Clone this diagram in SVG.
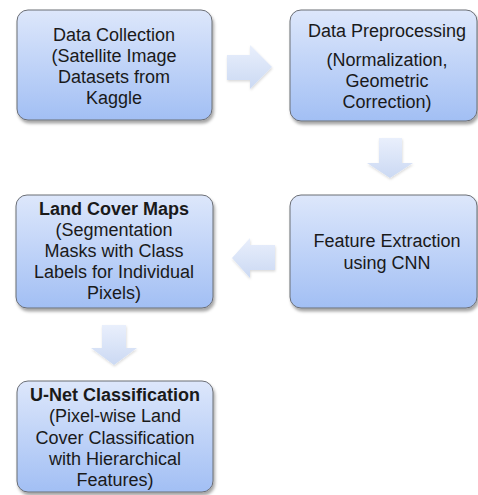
<svg xmlns="http://www.w3.org/2000/svg" width="478" height="495" viewBox="0 0 478 495">
<defs>
<linearGradient id="boxg" x1="0" y1="0" x2="0" y2="1">
<stop offset="0" stop-color="#dde7fb"/>
<stop offset="1" stop-color="#a2bff4"/>
</linearGradient>
<linearGradient id="arrg" x1="0" y1="0" x2="0" y2="1">
<stop offset="0" stop-color="#e9effc"/>
<stop offset="1" stop-color="#cbd9f3"/>
</linearGradient>
<filter id="sh" x="-10%" y="-10%" width="130%" height="130%">
<feDropShadow dx="1.5" dy="3" stdDeviation="1.8" flood-color="#000" flood-opacity="0.35"/>
</filter>
<filter id="ash" x="-20%" y="-20%" width="150%" height="150%">
<feDropShadow dx="0.5" dy="1.5" stdDeviation="1" flood-color="#000" flood-opacity="0.15"/>
</filter>
</defs>
<style>
.box{fill:url(#boxg);stroke:#6b6e75;stroke-width:1;filter:url(#sh)}
.arr{fill:url(#arrg);stroke:none;filter:url(#ash)}
text{font-family:"Liberation Sans",Arial,sans-serif;font-size:18px;fill:#1a1a1a;text-anchor:middle}
.b{font-weight:bold}
</style>
<rect width="478" height="495" fill="#ffffff"/>
<g id="connectors">
<polygon class="arr" points="227,55 250,55 250,45 272,67 250,89 250,80 227,80"/>
<polygon class="arr" points="379,138 402,138 402,163 413,163 390,178 367,163 379,163"/>
<polygon class="arr" points="275,245 250,245 250,238 232,258 250,278 250,270 275,270"/>
<polygon class="arr" points="102,325 126,325 126,348 137,348 114,365 91,348 102,348"/>
</g>
<g id="data-collection">
<rect class="box" x="17" y="10" width="195" height="110" rx="11"/>
<text x="114" y="41">Data Collection</text>
<text x="114" y="62">(Satellite Image</text>
<text x="114" y="83">Datasets from</text>
<text x="114" y="104">Kaggle</text>
</g>
<g id="data-preprocessing">
<rect class="box" x="290" y="10" width="187" height="111" rx="11"/>
<text x="387" y="37">Data Preprocessing</text>
<text x="387" y="66">(Normalization,</text>
<text x="387" y="87">Geometric</text>
<text x="387" y="108">Correction)</text>
</g>
<g id="feature-extraction">
<rect class="box" x="290" y="195" width="187" height="113" rx="11"/>
<text x="387" y="247">Feature Extraction</text>
<text x="387" y="269">using CNN</text>
</g>
<g id="land-cover-maps">
<rect class="box" x="16" y="195" width="197" height="113" rx="11"/>
<text class="b" x="114" y="215">Land Cover Maps</text>
<text x="114" y="236">(Segmentation</text>
<text x="114" y="257">Masks with Class</text>
<text x="114" y="278">Labels for Individual</text>
<text x="114" y="299">Pixels)</text>
</g>
<g id="unet-classification">
<rect class="box" x="17" y="381" width="196" height="111" rx="11"/>
<text class="b" x="115" y="401">U-Net Classification</text>
<text x="115" y="422">(Pixel-wise Land</text>
<text x="115" y="444">Cover Classification</text>
<text x="115" y="465">with Hierarchical</text>
<text x="115" y="486">Features)</text>
</g>
</svg>
